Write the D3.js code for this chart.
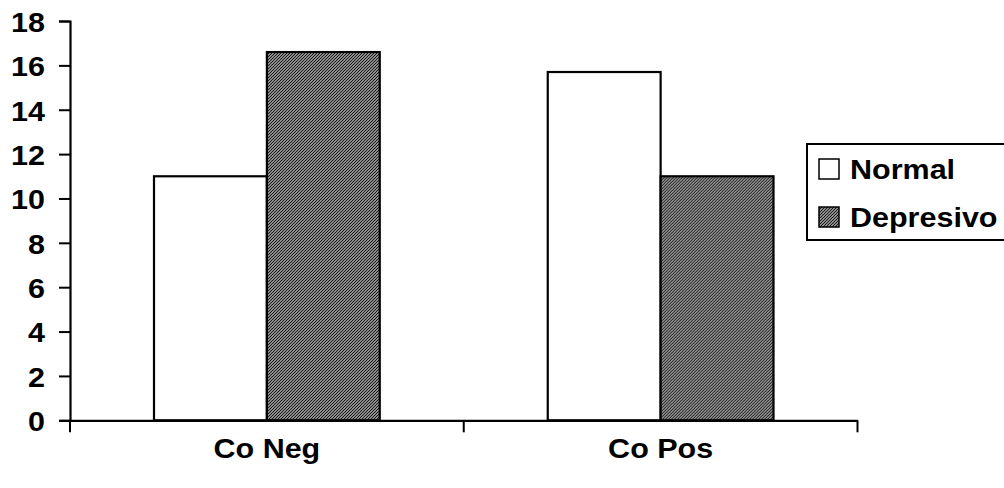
<!DOCTYPE html>
<html>
<head>
<meta charset="utf-8">
<script src="https://cdn.jsdelivr.net/npm/d3@7/dist/d3.min.js"></script>
<style>
  html, body { margin: 0; padding: 0; background: #fff; }
  svg { display: block; }
  text { font-family: "Liberation Sans", Arial, sans-serif; font-weight: bold; fill: #000; }
</style>
</head>
<body>
<svg id="chart" width="1004" height="488"></svg>
<script>
// Chart data
const categories = ["Co Neg", "Co Pos"];
const seriesNames = ["Normal", "Depresivo"];
const normalValues = [11.0, 15.7];
const depresivoValues = [16.6, 11.0];
const yTickValues = [0, 2, 4, 6, 8, 10, 12, 14, 16, 18];

const svg = d3.select("#chart");
const stretch = 1.13;          // horizontal stretch of the lettering
const fontSize = 27;

// hatched fill for the second series
const defs = svg.append("defs");
const pat = defs.append("pattern")
  .attr("id", "hatch")
  .attr("patternUnits", "userSpaceOnUse")
  .attr("width", 3).attr("height", 3);
pat.append("rect").attr("width", 3).attr("height", 3).attr("fill", "#e4e4e4");
pat.append("path")
  .attr("d", "M-1,1 L1,-1 M0,3 L3,0 M2,4 L4,2")
  .attr("stroke", "#1a1a1a").attr("stroke-width", 1.25);

const fills = { "Normal": "#ffffff", "Depresivo": "url(#hatch)" };

// scales
const x = d3.scaleBand().domain(categories).range([70, 857.5]);
const x1 = d3.scaleBand().domain(seriesNames).range([84, x.bandwidth() - 84]);
const y = d3.scaleLinear().domain([0, 18]).range([420.3, 21]);

const rows = categories.map((c, i) => ({
  category: c,
  values: [
    { series: "Normal", value: normalValues[i] },
    { series: "Depresivo", value: depresivoValues[i] }
  ]
}));

// bars
const groups = svg.append("g").selectAll("g").data(rows).join("g")
  .attr("transform", d => `translate(${x(d.category)},0)`);
groups.selectAll("rect").data(d => d.values).join("rect")
  .attr("x", d => x1(d.series))
  .attr("y", d => y(d.value))
  .attr("width", x1.bandwidth())
  .attr("height", d => y(0) - y(d.value))
  .attr("fill", d => fills[d.series])
  .attr("stroke", "#000")
  .attr("stroke-width", 2.2);

// y axis
const yAxis = svg.append("g")
  .attr("transform", "translate(70,0)")
  .call(d3.axisLeft(y).tickValues(yTickValues).tickSize(11).tickFormat(d3.format("d")));
yAxis.select(".domain").attr("stroke", "#000").attr("stroke-width", 2.2);
yAxis.selectAll(".tick line").attr("stroke", "#000").attr("stroke-width", 2);
yAxis.selectAll(".tick text")
  .attr("x", null).attr("dy", null)
  .attr("text-anchor", "end")
  .attr("dominant-baseline", "central")
  .style("font-size", fontSize + "px")
  .attr("transform", `translate(-25,1) scale(${stretch},1)`);

// x axis: baseline, boundary ticks and centred labels
const xAxis = svg.append("g")
  .attr("transform", `translate(0,${y(0)})`)
  .call(d3.axisBottom(x).tickSize(0).tickSizeOuter(0));
xAxis.select(".domain").attr("stroke", "#000").attr("stroke-width", 2.2);
xAxis.selectAll(".tick text")
  .attr("y", null).attr("dy", null)
  .style("font-size", fontSize + "px")
  .attr("text-anchor", "middle")
  .attr("transform", `translate(0,38) scale(${stretch},1)`);

const boundaries = [x.range()[0], ...categories.map(c => x(c) + x.bandwidth())];
xAxis.selectAll("line.bound").data(boundaries).join("line")
  .attr("class", "bound")
  .attr("x1", d => d).attr("x2", d => d)
  .attr("y1", 0).attr("y2", 12)
  .attr("stroke", "#000").attr("stroke-width", 2);

// legend
const legend = svg.append("g").attr("transform", "translate(807,144)");
legend.append("rect")
  .attr("x", 0).attr("y", 0).attr("width", 215).attr("height", 96)
  .attr("fill", "#fff").attr("stroke", "#000").attr("stroke-width", 2);
const items = legend.selectAll("g.item").data(seriesNames).join("g")
  .attr("class", "item")
  .attr("transform", (d, i) => `translate(12,${15 + i * 48})`);
items.append("rect")
  .attr("width", 20).attr("height", 20)
  .attr("fill", d => fills[d])
  .attr("stroke", "#000").attr("stroke-width", 1.5);
items.append("text")
  .attr("dominant-baseline", "central")
  .style("font-size", fontSize + "px")
  .attr("transform", `translate(31,11) scale(${stretch},1)`)
  .text(d => d);
</script>
</body>
</html>
